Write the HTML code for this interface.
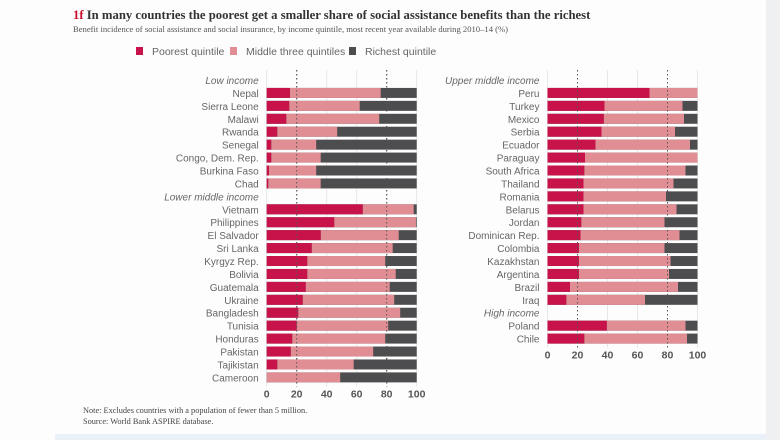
<!DOCTYPE html>
<html><head><meta charset="utf-8">
<style>
body{margin:0;background:#fff;width:780px;height:440px;overflow:hidden;font-family:"Liberation Sans",sans-serif;}
svg{display:block}
</style></head><body>
<svg id="chart" width="780" height="440" viewBox="0 0 780 440">
<rect x="0" y="0" width="780" height="440" fill="#fdfdfd"/>
<rect x="766" y="0" width="14" height="440" fill="#eef0f2"/>
<rect x="55" y="434" width="711" height="6" fill="#eaf1f8"/>
<text x="73" y="19" font-family="Liberation Serif,serif" font-weight="bold" font-size="12.7" fill="#333"><tspan fill="#c8102e">1f</tspan> In many countries the poorest get a smaller share of social assistance benefits than the richest</text>
<text x="73" y="32" font-family="Liberation Serif,serif" font-size="8.6" fill="#555">Benefit incidence of social assistance and social insurance, by income quintile, most recent year available during 2010–14 (%)</text>
<g font-size="10.5" fill="#666">
<g><rect x="136" y="47" width="7" height="8" fill="#c8134a"/><text x="152" y="55">Poorest quintile</text></g>
<g><rect x="230" y="47" width="7" height="8" fill="#e08d94"/><text x="246" y="55">Middle three quintiles</text></g>
<g><rect x="349" y="47" width="7" height="8" fill="#4d4d4f"/><text x="365" y="55">Richest quintile</text></g>
</g>
<g id="plots"></g>
<text x="83" y="413" font-family="Liberation Serif,serif" font-size="8.3" fill="#444">Note: Excludes countries with a population of fewer than 5 million.</text>
<text x="83" y="424" font-family="Liberation Serif,serif" font-size="8.3" fill="#444">Source: World Bank ASPIRE database.</text>
</svg>
<script>
// Left panel data
const leftGroups = ["Low income","Lower middle income"];
const leftCountries = [["Nepal","Sierra Leone","Malawi","Rwanda","Senegal","Congo, Dem. Rep.","Burkina Faso","Chad"],
["Vietnam","Philippines","El Salvador","Sri Lanka","Kyrgyz Rep.","Bolivia","Guatemala","Ukraine","Bangladesh","Tunisia","Honduras","Pakistan","Tajikistan","Cameroon"]];
const leftPoorest = [[15.5,15,13,7,3,3,1.5,1],[64,45,36,30,27,27,26,24,21,20,17,16,7,0]];
const leftMiddle = [[60.5,47,62,40,30,33,31.5,35],[34,54.5,52,54,52,59,56,61,68,61,62,55,51,49]];
// Right panel data
const rightGroups = ["Upper middle income","High income"];
const rightCountries = [["Peru","Turkey","Mexico","Serbia","Ecuador","Paraguay","South Africa","Thailand","Romania","Belarus","Jordan","Dominican Rep.","Colombia","Kazakhstan","Argentina","Brazil","Iraq"],["Poland","Chile"]];
const rightPoorest = [[68,38,37.5,36,32,25,24.5,24,24,24,22.5,22,21,21,21,15,12.5],[39.5,24.5]];
const rightMiddle = [[32,52,53.5,49,63,75,67.5,60,55,62,55.5,66,57,61,60,72,52.5],[52.5,68.5]];
const ticks = [0,20,40,60,80,100];

const NS="http://www.w3.org/2000/svg";
const plots=document.getElementById('plots');
function mk(tag,attrs,parent){const e=document.createElementNS(NS,tag);for(const k in attrs)e.setAttribute(k,attrs[k]);(parent||plots).appendChild(e);return e;}

function panel(x0,groups,countries,poor,mid,name){
  const g=mk('g',{});
  
  
  const W=150, step=12.93, y0=80;
  const xs=v=>x0+v/100*W;
  let n=0; countries.forEach(c=>n+=c.length+1);
  const yEnd=y0+(n-1)*step+9;
  ticks.forEach(t=>{
    const dotted=(t===20||t===80);
    const l=mk('line',{x1:xs(t),x2:xs(t),y1:70,y2:yEnd,stroke:dotted?'#666':'#e2e2e2','stroke-width':dotted?1:0.8,'stroke-dasharray':dotted?'1.5,2.5':'none'},g);
    
    
    const tx=mk('text',{x:xs(t),y:yEnd+11,'text-anchor':'middle','font-size':10.5,'font-weight':'bold',fill:'#555'},g);
    tx.textContent=t;
    
    
  });
  let row=0;
  groups.forEach((grp,gi)=>{
    const y=y0+row*step;
    const gt=mk('text',{x:x0-8,y:y+4,'text-anchor':'end','font-size':10,'font-style':'italic',fill:'#666'},g);
    gt.textContent=grp;
    
    
    row++;
    countries[gi].forEach((c,ci)=>{
      const yc=y0+row*step;
      const p=poor[gi][ci], m=mid[gi][ci];
      const lt=mk('text',{x:x0-8,y:yc+4,'text-anchor':'end','font-size':10,fill:'#666'},g);
      lt.textContent=c;
      
      
      const r3=mk('rect',{x:xs(0),y:yc-5,width:xs(100)-xs(0),height:10,fill:'#4d4d4f'},g);
      
      
      const r2=mk('rect',{x:xs(p),y:yc-5,width:xs(p+m)-xs(p),height:10,fill:'#e08d94'},g);
      
      
      const r1=mk('rect',{x:xs(0),y:yc-5,width:xs(p)-xs(0),height:10,fill:'#c8134a'},g);
      
      
      row++;
    });
  });
  [20,80].forEach(t=>{
    const l=mk('line',{x1:xs(t),x2:xs(t),y1:70,y2:yEnd,stroke:'#555','stroke-width':1,'stroke-dasharray':'1.5,2.5'},g);
    
    
  });
}
panel(266.7,leftGroups,leftCountries,leftPoorest,leftMiddle,'left-panel');
panel(547.5,rightGroups,rightCountries,rightPoorest,rightMiddle,'right-panel');
</script>
</body></html>
